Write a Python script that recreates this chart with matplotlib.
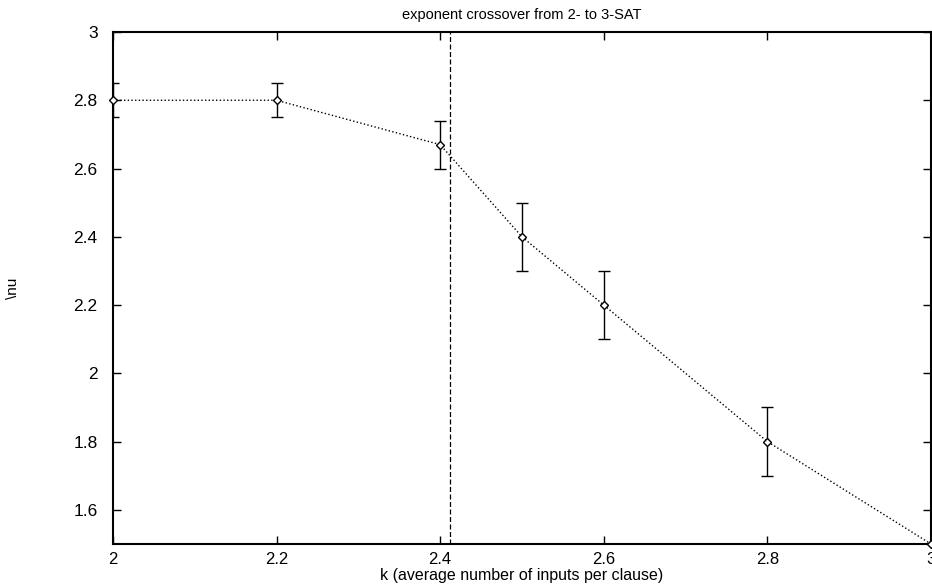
import matplotlib
matplotlib.use("Agg")
import matplotlib.pyplot as plt

plt.rcParams['font.family'] = ['Liberation Sans', 'DejaVu Sans']

k = [2.0, 2.2, 2.4, 2.5, 2.6, 2.8, 3.0]
nu = [2.8, 2.8, 2.67, 2.4, 2.2, 1.8, 1.5]
err = [0.05, 0.05, 0.07, 0.1, 0.1, 0.1, 0.0]
k_cross = 2.412

xticks = [2, 2.2, 2.4, 2.6, 2.8, 3]
xlabels = ["2", "2.2", "2.4", "2.6", "2.8", "3"]
yticks = [1.6, 1.8, 2.0, 2.2, 2.4, 2.6, 2.8, 3.0]
ylabels = ["1.6", "1.8", "2", "2.2", "2.4", "2.6", "2.8", "3"]

fig = plt.figure(figsize=(9.32, 5.86), dpi=100)
ax = fig.add_axes([0.1212, 0.0717, 0.8777, 0.8737])

ax.plot(k, nu, ':', color='black', linewidth=1.0, clip_on=False, zorder=2)
ax.errorbar(k, nu, yerr=err, fmt='none', ecolor='black', elinewidth=1.0,
            capsize=4, capthick=1.0, zorder=3)
ax.plot(k, nu, 'D', markersize=4.5, markerfacecolor='white',
        markeredgecolor='black', markeredgewidth=1.0, clip_on=False, zorder=4)
ax.axvline(k_cross, color='black', linestyle='--', linewidth=0.9,
           dashes=(4, 2))

ax.set_xlim(2, 3)
ax.set_ylim(1.5, 3)
ax.set_xticks(xticks)
ax.set_xticklabels(xlabels)
ax.set_yticks(yticks)
ax.set_yticklabels(ylabels)
ax.tick_params(direction='in', top=True, right=True, length=6, width=1,
               labelsize=12.5)
ax.tick_params(axis='y', pad=11)
ax.tick_params(axis='x', pad=6, labelsize=12)
for s in ax.spines.values():
    s.set_linewidth(1.5)

ax.set_title("exponent crossover from 2- to 3-SAT", fontsize=10.5, pad=9)
ax.set_xlabel("k (average number of inputs per clause)", fontsize=11.5, labelpad=0.5)
ax.set_ylabel("\\nu", fontsize=11)
ax.yaxis.set_label_coords(-0.114, 0.5)

fig.savefig("out.png", dpi=100)
